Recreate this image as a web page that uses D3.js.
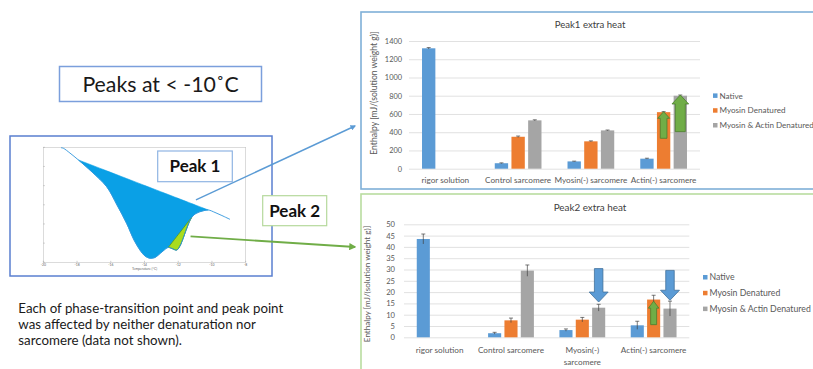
<!DOCTYPE html>
<html>
<head>
<meta charset="utf-8">
<script src="https://cdn.jsdelivr.net/npm/d3@7"></script>
<style>
  body { margin: 0; background: #fff; }
  svg { display: block; font-family: Lato, "Open Sans", sans-serif; }
</style>
</head>
<body>
<svg id="c" width="813" height="369"></svg>
<script>
// ---------- data ----------
const categories = ["rigor solution", "Control sarcomere", "Myosin(-) sarcomere", "Actin(-) sarcomere"];
const peak2CategoryLines = [["rigor solution"], ["Control sarcomere"], ["Myosin(-)", "sarcomere"], ["Actin(-) sarcomere"]];
const series = ["Native", "Myosin Denatured", "Myosin & Actin Denatured"];
const seriesColors = ["#5b9bd5", "#ed7d31", "#a5a5a5"];

// Peak 1 extra heat, mJ/(solution weight g)
const peak1Native = [1320, 60, 80, 110];
const peak1Myosin = [null, 350, 300, 620];
const peak1Both = [null, 530, 420, 800];
const peak1NativeErr = [8, 4, 3, 5];
const peak1MyosinErr = [null, 8, 5, 6];
const peak1BothErr = [null, 6, 4, 8];
const peak1Ticks = [0, 200, 400, 600, 800, 1000, 1200, 1400];

// Peak 2 extra heat, mJ/(solution weight g)
const peak2Native = [43.5, 1.8, 3.2, 5.3];
const peak2Myosin = [null, 7.5, 7.8, 16.7];
const peak2Both = [null, 29.5, 13.1, 12.7];
const peak2NativeErr = [2.2, 0.4, 0.5, 1.8];
const peak2MyosinErr = [null, 1.0, 1.0, 1.9];
const peak2BothErr = [null, 2.5, 1.5, 3.3];
const peak2Ticks = [0, 5, 10, 15, 20, 25, 30, 35, 40, 45, 50];

// block arrows drawn over bars: category, series, tail value, tip value
const peak1ArrowCat = ["Actin(-) sarcomere", "Actin(-) sarcomere"];
const peak1ArrowSeries = ["Myosin Denatured", "Myosin & Actin Denatured"];
const peak1ArrowFrom = [333, 406];
const peak1ArrowTo = [625, 808];
const peak2ArrowCat = ["Myosin(-) sarcomere", "Actin(-) sarcomere", "Actin(-) sarcomere"];
const peak2ArrowSeries = ["Myosin & Actin Denatured", "Myosin & Actin Denatured", "Myosin Denatured"];
const peak2ArrowFrom = [30.4, 29.6, 5.6];
const peak2ArrowTo = [15.6, 16.4, 16.0];

// DSC thermogram (temperature in °C, heat flow)
const dscTemp = [-18.95, -18.81, -18.42, -17.92, -17.11, -16.24, -15.63, -15.06, -14.62, -14.27, -13.97, -13.67,
  -13.38, -13.18, -12.90, -12.59, -12.37, -12.09, -11.90, -11.66, -11.42, -11.20, -10.95, -10.51, -10.22,
  -9.82, -9.41, -8.93];
const dscHeat = [-0.02, -0.05, -0.30, -0.66, -1.29, -2.06, -3.01, -3.97, -4.84, -5.36, -5.67, -5.79,
  -5.75, -5.62, -5.41, -5.22, -5.28, -5.36, -5.15, -4.63, -4.05, -3.65, -3.45, -3.31, -3.27,
  -3.40, -3.56, -3.76];
const peak1Start = -17.92, peak1End = -10.22;   // integration limits of peak 1
const peak2Start = -12.59, peak2End = -11.20;   // integration limits of peak 2
const dscTicks = [-20, -18, -16, -14, -12, -10, -8];
const dscHeatTicks = [-6, -5, -4, -3, -2, -1, 0];

const note = ["Each of phase-transition point and peak point",
  "was affected by neither denaturation nor",
  "sarcomere (data not shown)."];

// ---------- drawing ----------
const svg = d3.select("#c");
const dsc = dscTemp.map((t, i) => ({ t, h: dscHeat[i] }));

// left: heading box
svg.append("rect").attr("x", 59.5).attr("y", 66.5).attr("width", 202).attr("height", 35)
  .attr("fill", "#fff").attr("stroke", "#7b9fdc").attr("stroke-width", 1.5);
svg.append("text").attr("x", 160.5).attr("y", 91.5).attr("text-anchor", "middle")
  .attr("font-size", 21.3).attr("fill", "#1a1a1a").text("Peaks at < -10˚C");

// left: thermogram panel
svg.append("rect").attr("x", 10).attr("y", 136).attr("width", 262).attr("height", 140)
  .attr("fill", "#fff").attr("stroke", "#5a7fd0").attr("stroke-width", 1.5);

const xT = d3.scaleLinear().domain([-20, -8]).range([43.3, 245.7]);
const yH = d3.scaleLinear().domain([-6, 0]).range([262.3, 147.3]);
const g0 = svg.append("g");
g0.append("rect").attr("x", xT(-20)).attr("y", yH(0)).attr("width", xT(-8) - xT(-20)).attr("height", yH(-6) - yH(0))
  .attr("fill", "none").attr("stroke", "#c4c4c4").attr("stroke-width", 0.6);
g0.selectAll(".xt").data(dscTicks).join("line")
  .attr("x1", d => xT(d)).attr("x2", d => xT(d)).attr("y1", yH(-6)).attr("y2", yH(-6) - 1.5)
  .attr("stroke", "#999").attr("stroke-width", 0.5);
g0.selectAll(".yt").data(dscHeatTicks).join("line")
  .attr("x1", xT(-20)).attr("x2", xT(-20) + 1.5).attr("y1", d => yH(d)).attr("y2", d => yH(d))
  .attr("stroke", "#999").attr("stroke-width", 0.5);
g0.selectAll(".xl").data(dscTicks).join("text")
  .attr("x", d => xT(d)).attr("y", yH(-6) + 4).attr("text-anchor", "middle")
  .attr("font-size", 3.4).attr("fill", "#666").text(d => d);
g0.append("text").attr("x", xT(-14)).attr("y", yH(-6) + 8).attr("text-anchor", "middle")
  .attr("font-size", 3.4).attr("fill", "#666").text("Temperature (°C)");

// peak 1 area: between straight baseline and the trace
const baseAt = (t, t0, t1) => {
  const h0 = dsc.find(d => d.t === t0).h, h1 = dsc.find(d => d.t === t1).h;
  return h0 + (h1 - h0) * (t - t0) / (t1 - t0);
};
const inPeak1 = dsc.filter(d => d.t >= peak1Start && d.t <= peak1End);
g0.append("path").datum(inPeak1)
  .attr("d", d3.area().x(d => xT(d.t)).y0(d => yH(baseAt(d.t, peak1Start, peak1End))).y1(d => yH(d.h))
    .curve(d3.curveCatmullRom))
  .attr("fill", "#0aa0e6").attr("stroke", "#0aa0e6").attr("stroke-width", 0.6);

// peak 2 area: between its own chord and the trace
const inPeak2 = dsc.filter(d => d.t >= peak2Start && d.t <= peak2End);
g0.append("path").datum(inPeak2)
  .attr("d", d3.area().x(d => xT(d.t)).y0(d => yH(baseAt(d.t, peak2Start, peak2End))).y1(d => yH(d.h))
    .curve(d3.curveCatmullRom))
  .attr("fill", "#a9dc1e").attr("stroke", "#4f8f1a").attr("stroke-width", 0.7);

// the whole trace
g0.append("path").datum(dsc)
  .attr("d", d3.line().x(d => xT(d.t)).y(d => yH(d.h)).curve(d3.curveCatmullRom))
  .attr("fill", "none").attr("stroke", "#2f95dc").attr("stroke-width", 0.9);

// leader arrows
const defs = svg.append("defs");
[["ahBlue", "#5b9bd5"], ["ahGreen", "#70ad47"]].forEach(([id, c]) => {
  defs.append("marker").attr("id", id).attr("viewBox", "0 0 10 10").attr("refX", 8).attr("refY", 5)
    .attr("markerWidth", 4).attr("markerHeight", 4).attr("orient", "auto")
    .append("path").attr("d", "M0,0 L10,5 L0,10 z").attr("fill", c);
});
svg.append("line").attr("x1", xT(-10.95)).attr("y1", yH(-2.74)).attr("x2", 355).attr("y2", 126)
  .attr("stroke", "#5b9bd5").attr("stroke-width", 1.4).attr("marker-end", "url(#ahBlue)");
svg.append("line").attr("x1", xT(-11.27)).attr("y1", yH(-4.65)).attr("x2", 355).attr("y2", 247)
  .attr("stroke", "#70ad47").attr("stroke-width", 1.8).attr("marker-end", "url(#ahGreen)");

// peak name boxes
function labelBox(x, y, w, h, stroke, label) {
  svg.append("rect").attr("x", x).attr("y", y).attr("width", w).attr("height", h)
    .attr("fill", "#fff").attr("stroke", stroke).attr("stroke-width", 1.2);
  svg.append("text").attr("x", x + w / 2).attr("y", y + h / 2 + 6).attr("text-anchor", "middle")
    .attr("font-size", 17).attr("font-weight", "bold").attr("fill", "#111").text(label);
}
labelBox(157.7, 151, 74.6, 30.7, "#8fb4e3", "Peak 1");
labelBox(262.7, 195.7, 64, 30, "#b5d99c", "Peak 2");

// note text
svg.append("g").selectAll("text").data(note).join("text")
  .attr("x", 18.3).attr("y", (d, i) => 313.3 + i * 16)
  .attr("font-size", 13.3).attr("fill", "#1a1a1a").text(d => d);

// ---------- bar chart panels ----------
function blockArrow(g, cx, yTail, yTip, shaftW, headW, headL, fill, stroke) {
  const dir = yTip < yTail ? 1 : -1; // 1 = pointing up
  const yBase = yTip + dir * headL;
  const pts = [[cx - shaftW / 2, yTail], [cx - shaftW / 2, yBase], [cx - headW / 2, yBase], [cx, yTip],
    [cx + headW / 2, yBase], [cx + shaftW / 2, yBase], [cx + shaftW / 2, yTail]];
  g.append("path").attr("d", d3.line()(pts) + "Z").attr("fill", fill).attr("stroke", stroke).attr("stroke-width", 0.8);
}

function barPanel(opt) {
  const g = svg.append("g");
  g.append("rect").attr("x", opt.box[0]).attr("y", opt.box[1]).attr("width", opt.box[2]).attr("height", opt.box[3])
    .attr("fill", "#fff").attr("stroke", opt.boxStroke).attr("stroke-width", 1.6);

  const x0 = d3.scaleBand().domain(categories).range(opt.xr);
  const x1 = d3.scaleBand().domain(series).range([0, x0.bandwidth()]).paddingInner(0.2).paddingOuter(0.78);
  const y = d3.scaleLinear().domain([0, opt.ticks[opt.ticks.length - 1]]).range(opt.yr);

  const ax = g.append("g").attr("transform", `translate(${opt.xr[0]},0)`)
    .call(d3.axisLeft(y).tickValues(opt.ticks).tickFormat(d3.format("d"))
      .tickSize(-(opt.xr[1] - opt.xr[0])).tickPadding(opt.tickPad));
  ax.select(".domain").remove();
  ax.selectAll("line").attr("stroke", "#d9d9d9").attr("stroke-width", 0.8);
  ax.selectAll("text").attr("fill", "#595959").attr("font-size", opt.fs).attr("font-family", "Lato, sans-serif");

  g.append("text").attr("x", 590).attr("y", opt.titleY).attr("text-anchor", "middle")
    .attr("font-size", opt.titleFs).attr("fill", "#404040").text(opt.title);
  g.append("text").attr("transform", `translate(${opt.yTitleX},${opt.yTitleY}) rotate(-90)`)
    .attr("text-anchor", "middle").attr("font-size", opt.yTitleFs).attr("fill", "#595959")
    .text("Enthalpy [mJ/(solution weight g)]");

  const rows = [];
  opt.values.forEach((vals, si) => vals.forEach((v, ci) => {
    if (v !== null) rows.push({ c: categories[ci], s: series[si], si, v, e: opt.errs[si][ci] });
  }));
  g.selectAll(".bar").data(rows).join("rect")
    .attr("x", d => x0(d.c) + x1(d.s)).attr("width", x1.bandwidth())
    .attr("y", d => y(d.v)).attr("height", d => y(0) - y(d.v))
    .attr("fill", d => seriesColors[d.si]);
  const cx = d => x0(d.c) + x1(d.s) + x1.bandwidth() / 2;
  g.selectAll(".err").data(rows).join("path")
    .attr("d", d => `M${cx(d)},${y(d.v - d.e)}V${y(d.v + d.e)}M${cx(d) - 2},${y(d.v + d.e)}H${cx(d) + 2}`)
    .attr("stroke", "#404040").attr("stroke-width", 0.7).attr("fill", "none");

  // category labels
  const cl = g.selectAll(".cat").data(categories).join("text")
    .attr("x", d => x0(d) + x0.bandwidth() / 2).attr("y", opt.catY).attr("text-anchor", "middle")
    .attr("font-size", opt.catFs).attr("fill", "#595959");
  cl.each(function (d, i) {
    const lines = opt.catLines[i];
    d3.select(this).selectAll("tspan").data(lines).join("tspan")
      .attr("x", x0(d) + x0.bandwidth() / 2).attr("dy", (l, j) => j === 0 ? 0 : opt.catFs * 1.45).text(l => l);
  });

  // legend
  series.forEach((s, i) => {
    g.append("rect").attr("x", opt.leg[0]).attr("y", opt.leg[1] + i * opt.leg[2] - 2.3)
      .attr("width", 4.5).attr("height", 4.5).attr("fill", seriesColors[i]);
    g.append("text").attr("x", opt.leg[0] + 6.5).attr("y", opt.leg[1] + i * opt.leg[2] + 2.8)
      .attr("font-size", opt.legFs).attr("fill", "#595959").text(s);
  });

  opt.arrows.forEach(a => {
    blockArrow(g, x0(a.c) + x1(a.s) + x1.bandwidth() / 2, y(a.from), y(a.to), a.shaftW, a.headW, a.headL, a.fill, a.stroke);
  });
}

const green = ["#70ad47", "#4d7f2e"], blue = ["#5b9bd5", "#41719c"];
barPanel({
  box: [361, 12, 470, 177], boxStroke: "#7fb0d8",
  xr: [409, 700], yr: [168.7, 41], ticks: peak1Ticks, tickPad: 7, fs: 7.4,
  title: "Peak1 extra heat", titleY: 28, titleFs: 9.6, yTitleX: 377, yTitleY: 93, yTitleFs: 8.6,
  values: [peak1Native, peak1Myosin, peak1Both], errs: [peak1NativeErr, peak1MyosinErr, peak1BothErr],
  catY: 183, catFs: 8.2, catLines: categories.map(c => [c]),
  leg: [713, 95.7, 14.8], legFs: 8.1,
  arrows: peak1ArrowFrom.map((f, i) => ({ c: peak1ArrowCat[i], s: peak1ArrowSeries[i], from: f, to: peak1ArrowTo[i],
    shaftW: i === 0 ? 6.7 : 10, headW: i === 0 ? 12 : 16.7, headL: i === 0 ? 6.6 : 9, fill: green[0], stroke: green[1] }))
});
barPanel({
  box: [361, 194, 470, 190], boxStroke: "#b9dca0",
  xr: [404, 689.3], yr: [337.3, 224.3], ticks: peak2Ticks, tickPad: 9, fs: 7.6,
  title: "Peak2 extra heat", titleY: 210.5, titleFs: 9.9, yTitleX: 370, yTitleY: 284, yTitleFs: 8.1,
  values: [peak2Native, peak2Myosin, peak2Both], errs: [peak2NativeErr, peak2MyosinErr, peak2BothErr],
  catY: 353, catFs: 8.2, catLines: peak2CategoryLines,
  leg: [703, 277.3, 15.8], legFs: 8.7,
  arrows: peak2ArrowFrom.map((f, i) => ({ c: peak2ArrowCat[i], s: peak2ArrowSeries[i], from: f, to: peak2ArrowTo[i],
    shaftW: i === 2 ? 6 : 8.5, headW: i === 2 ? 10.5 : 19, headL: i === 2 ? 7 : 10,
    fill: i === 2 ? green[0] : blue[0], stroke: i === 2 ? green[1] : blue[1] }))
});
</script>
</body>
</html>
